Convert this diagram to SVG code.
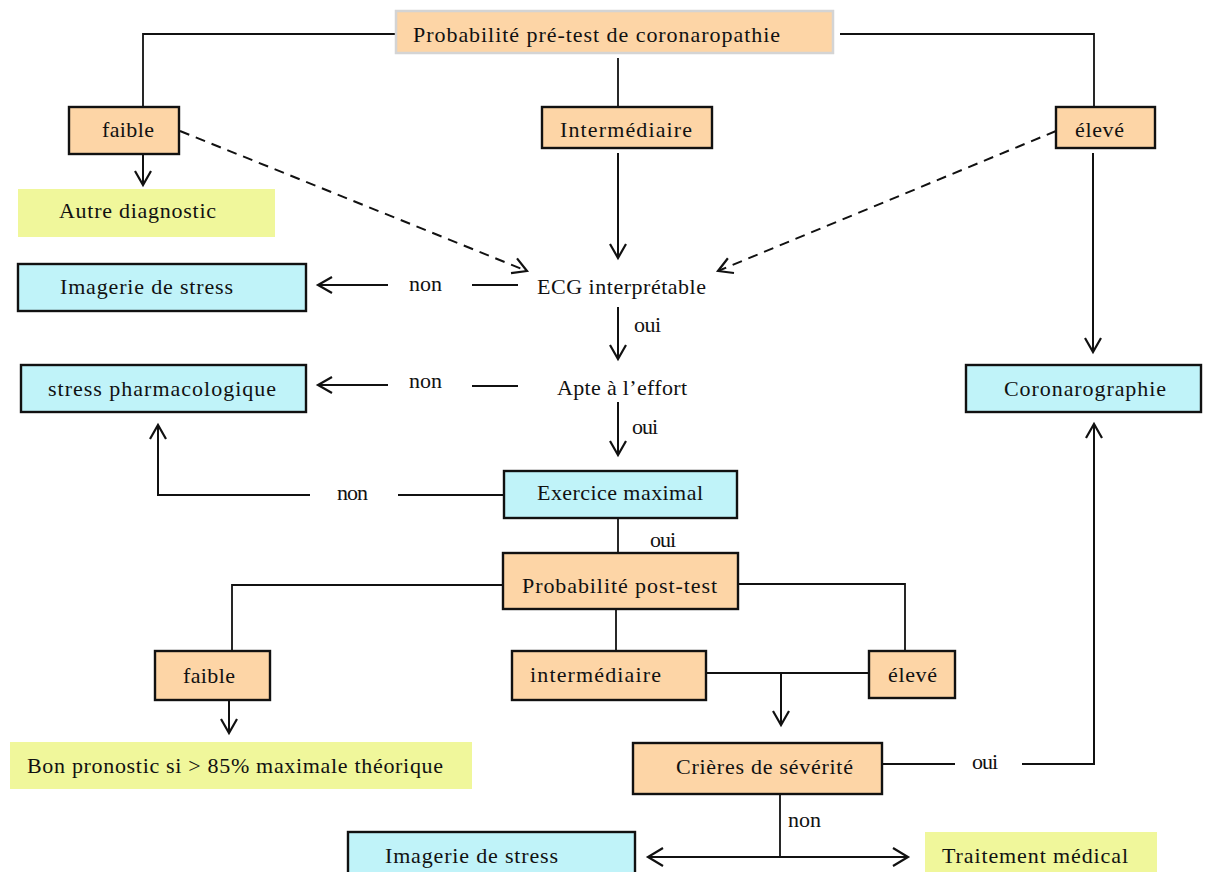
<svg xmlns="http://www.w3.org/2000/svg" width="1208" height="872" viewBox="0 0 1208 872">
<defs>
<style>
text{font-family:"Liberation Serif","Times New Roman",serif;font-size:22px;fill:#111;}
.peach{fill:#FDD5A6;stroke:#111;stroke-width:2.4;}
.cyan{fill:#C0F3F9;stroke:#111;stroke-width:2.4;}
.yellow{fill:#F0F79B;stroke:none;}
.top{fill:#FDD5A6;stroke:#D4D4D4;stroke-width:2.5;}
.ln{fill:none;stroke:#111;stroke-width:1.8;}
.ar{fill:none;stroke:#111;stroke-width:2;marker-end:url(#ah);}
.da{fill:none;stroke:#111;stroke-width:2;stroke-dasharray:10 7;marker-end:url(#ah);}
</style>
<marker id="ah" markerUnits="userSpaceOnUse" viewBox="-17 -11 19 22" markerWidth="19" markerHeight="22" refX="0" refY="0" orient="auto" overflow="visible">
<path d="M-14,-8 L0,0 L-14,8" fill="none" stroke="#111" stroke-width="2.2" stroke-dasharray="none"/>
</marker>
<marker id="ahs" markerUnits="userSpaceOnUse" viewBox="-17 -11 19 22" markerWidth="19" markerHeight="22" refX="0" refY="0" orient="auto-start-reverse" overflow="visible">
<path d="M-15,-9 L0,0 L-15,9" fill="none" stroke="#111" stroke-width="2.2"/>
</marker>
</defs>
<rect width="1208" height="872" fill="#fff"/>

<g id="connectors">
<polyline class="ln" points="395,34 143,34 143,117"/>
<line class="ln" x1="618" y1="58" x2="618" y2="107"/>
<polyline class="ln" points="840,34 1094,34 1094,107"/>
<line class="ar" x1="143" y1="154" x2="143" y2="185"/>
<line class="da" x1="180" y1="131" x2="527" y2="271"/>
<line class="ar" x1="618" y1="153" x2="618" y2="258"/>
<line class="da" x1="1056" y1="131" x2="718" y2="271"/>
<line class="ar" x1="1093" y1="153" x2="1093" y2="352"/>
<line class="ln" x1="472" y1="285" x2="518" y2="285"/>
<line class="ar" x1="388" y1="285" x2="318" y2="285"/>
<line class="ar" x1="618" y1="307" x2="618" y2="359"/>
<line class="ln" x1="472" y1="386" x2="518" y2="386"/>
<line class="ar" x1="388" y1="385" x2="318" y2="385"/>
<line class="ar" x1="618" y1="402" x2="618" y2="455"/>
<line class="ln" x1="504" y1="495" x2="398" y2="495"/>
<polyline class="ar" points="310,495 158,495 158,425"/>
<line class="ln" x1="618" y1="518" x2="618" y2="553"/>
<polyline class="ln" points="503,585 232,585 232,651"/>
<polyline class="ln" points="738,584 905,584 905,651"/>
<line class="ln" x1="616" y1="609" x2="616" y2="651"/>
<line class="ar" x1="229" y1="700" x2="229" y2="733"/>
<line class="ln" x1="698" y1="673" x2="869" y2="673"/>
<line class="ar" x1="781" y1="673" x2="781" y2="725"/>
<line class="ln" x1="882" y1="764" x2="955" y2="764"/>
<polyline class="ar" points="1022,764 1094,764 1094,424"/>
<line class="ln" x1="780" y1="794" x2="780" y2="857"/>
<line x1="648" y1="857" x2="908" y2="857" fill="none" stroke="#111" stroke-width="2" marker-start="url(#ahs)" marker-end="url(#ahs)"/>
<text x="409" y="291" textLength="33">non</text>
<text x="634" y="332" textLength="27">oui</text>
<text x="409" y="388" textLength="33">non</text>
<text x="632" y="434" textLength="26">oui</text>
<text x="337" y="500" textLength="31">non</text>
<text x="650" y="547" textLength="26">oui</text>
<text x="972" y="769" textLength="26">oui</text>
<text x="788" y="827" textLength="33">non</text>
</g>

<g id="pretest">
<rect class="top" x="396" y="11" width="437" height="42"/>
<text x="413" y="42" textLength="367">Probabilité pré-test de coronaropathie</text>
</g>
<g id="faible1">
<rect class="peach" x="69" y="107" width="110" height="47"/>
<text x="102" y="137" textLength="52">faible</text>
</g>
<g id="intermediaire1">
<rect class="peach" x="542" y="107" width="170" height="41"/>
<text x="560" y="137" textLength="132">Intermédiaire</text>
</g>
<g id="eleve1">
<rect class="peach" x="1056" y="107" width="99" height="41"/>
<text x="1075" y="137" textLength="49">élevé</text>
</g>
<g id="autre">
<rect class="yellow" x="18" y="189" width="257" height="48"/>
<text x="59" y="218" textLength="157">Autre diagnostic</text>
</g>
<g id="imagerie1">
<rect class="cyan" x="18" y="264" width="288" height="47"/>
<text x="60" y="294" textLength="173">Imagerie de stress</text>
</g>
<g id="ecg">
<text x="537" y="294" textLength="169">ECG interprétable</text>
</g>
<g id="pharmaco">
<rect class="cyan" x="21" y="365" width="285" height="47"/>
<text x="48" y="396" textLength="228">stress pharmacologique</text>
</g>
<g id="apte">
<text x="557" y="395" textLength="130">Apte à l’effort</text>
</g>
<g id="coronaro">
<rect class="cyan" x="966" y="365" width="235" height="47"/>
<text x="1004" y="396" textLength="162">Coronarographie</text>
</g>
<g id="exercice">
<rect class="cyan" x="504" y="471" width="233" height="47"/>
<text x="537" y="500" textLength="166">Exercice maximal</text>
</g>
<g id="posttest">
<rect class="peach" x="503" y="553" width="235" height="56"/>
<text x="522" y="593" textLength="195">Probabilité post-test</text>
</g>
<g id="faible2">
<rect class="peach" x="155" y="651" width="115" height="49"/>
<text x="183" y="683" textLength="52">faible</text>
</g>
<g id="intermediaire2">
<rect class="peach" x="512" y="651" width="194" height="49"/>
<text x="530" y="682" textLength="131">intermédiaire</text>
</g>
<g id="eleve2">
<rect class="peach" x="869" y="651" width="86" height="47"/>
<text x="888" y="682" textLength="49">élevé</text>
</g>
<g id="bon">
<rect class="yellow" x="10" y="742" width="462" height="47"/>
<text x="27" y="773" textLength="416">Bon pronostic si &gt; 85% maximale théorique</text>
</g>
<g id="criteres">
<rect class="peach" x="633" y="743" width="249" height="51"/>
<text x="676" y="774" textLength="177">Crières de sévérité</text>
</g>
<g id="imagerie2">
<rect class="cyan" x="348" y="832" width="287" height="50"/>
<text x="385" y="863" textLength="173">Imagerie de stress</text>
</g>
<g id="traitement">
<rect class="yellow" x="925" y="832" width="232" height="50"/>
<text x="942" y="863" textLength="186">Traitement médical</text>
</g>
</svg>
